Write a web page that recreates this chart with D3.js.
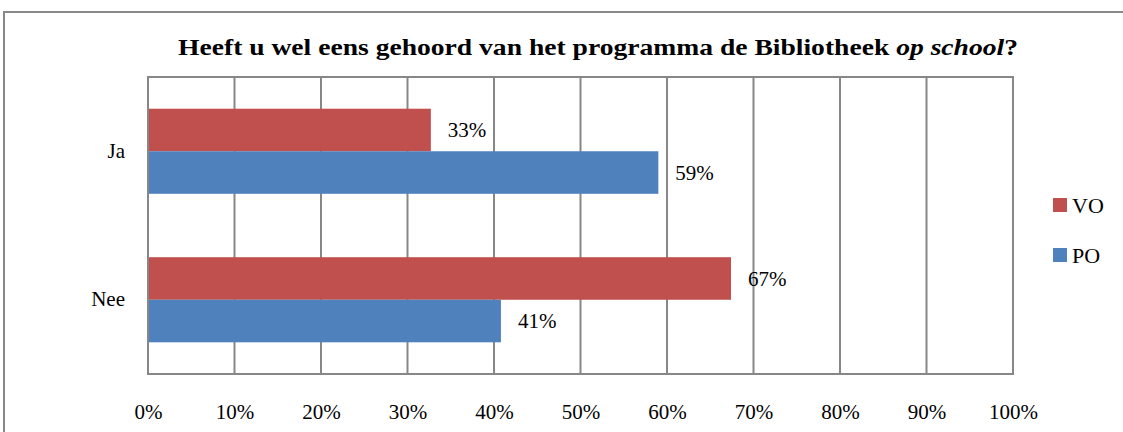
<!DOCTYPE html>
<html><head><meta charset="utf-8">
<script src="https://cdn.jsdelivr.net/npm/d3@7"></script>
<style>body{margin:0;background:#fff}svg{display:block}</style>
</head><body><svg id="c" width="1123" height="432"></svg>
<script>
const categories = ["Ja", "Nee"];
const seriesNames = ["VO", "PO"];
const VO = [0.327, 0.674];
const PO = [0.590, 0.408];
const valueLabels = {VO: ["33%", "67%"], PO: ["59%", "41%"]};
const ticks = [0,0.1,0.2,0.3,0.4,0.5,0.6,0.7,0.8,0.9,1.0];
const colors = {VO: "#C0504D", PO: "#4F81BD"};
const FONT = "Liberation Serif";

const svg = d3.select("#c");
svg.append("path").attr("d","M4,440 L4,12 L1130,12").attr("fill","none").attr("stroke","#888").attr("stroke-width",2);

const m = {l:148, r:1013, t:77, b:374};
const x = d3.scaleLinear().domain([0,1]).range([m.l, m.r]);
const y0 = d3.scaleBand().domain(categories).range([m.t, m.b]).paddingInner(0.427).paddingOuter(0.2135);
const y1 = d3.scaleBand().domain(seriesNames).range([0, y0.bandwidth()]);

const title = svg.append("text").attr("x", 598).attr("y", 55).attr("text-anchor","middle")
  .attr("textLength", 840).attr("lengthAdjust","spacingAndGlyphs")
  .style("font-family", FONT).style("font-size","23px").style("font-weight","bold").style("fill","#000");
title.append("tspan").text("Heeft u wel eens gehoord van het programma de Bibliotheek ");
title.append("tspan").style("font-style","italic").text("op school");
title.append("tspan").text("?");

const g = svg.append("g");
g.selectAll("line.v").data(ticks).join("line").attr("class","v")
  .attr("x1", d=>x(d)).attr("x2", d=>x(d)).attr("y1", m.t).attr("y2", m.b)
  .attr("stroke","#878787").attr("stroke-width",2);
g.append("line").attr("x1",m.l-1).attr("x2",m.r+1).attr("y1",m.t).attr("y2",m.t).attr("stroke","#878787").attr("stroke-width",2);
g.append("line").attr("x1",m.l-1).attr("x2",m.r+1).attr("y1",m.b).attr("y2",m.b).attr("stroke","#878787").attr("stroke-width",2);

const xAxis = d3.axisBottom(x).tickValues(ticks).tickFormat(d3.format(".0%")).tickSize(0).tickPadding(0);
const xa = svg.append("g").attr("transform",`translate(0,${m.b+30})`).call(xAxis);
xa.select(".domain").remove();
xa.selectAll("text").style("font-family", FONT).style("font-size","21px").style("fill","#000").attr("dy","0.71em");

const yAxis = d3.axisLeft(y0).tickSize(0).tickPadding(23);
const ya = svg.append("g").attr("transform",`translate(${m.l},0)`).call(yAxis);
ya.select(".domain").remove();
ya.selectAll("text").style("font-family", FONT).style("font-size","21px").style("fill","#000");

const data = [];
categories.forEach((c,i)=>{
  data.push({cat:c, s:"VO", v:VO[i], lab:valueLabels.VO[i]});
  data.push({cat:c, s:"PO", v:PO[i], lab:valueLabels.PO[i]});
});
const bars = svg.append("g");
bars.selectAll("rect").data(data).join("rect")
  .attr("x", x(0)+1).attr("y", d=>y0(d.cat)+y1(d.s))
  .attr("width", d=>x(d.v)-x(0)-1).attr("height", y1.bandwidth())
  .attr("fill", d=>colors[d.s]);
bars.selectAll("text").data(data).join("text")
  .attr("x", d=>x(d.v)+17).attr("y", d=>y0(d.cat)+y1(d.s)+y1.bandwidth()/2)
  .attr("dy","0.35em").style("font-family", FONT).style("font-size","21px").style("fill","#000").text(d=>d.lab);

const lg = svg.append("g");
seriesNames.forEach((s,i)=>{
  const cy = 205 + i*50;
  lg.append("rect").attr("x",1053).attr("y",cy-7).attr("width",14).attr("height",14).attr("fill",colors[s]);
  lg.append("text").attr("x",1072).attr("y",cy).attr("dy","0.35em").style("font-family", FONT).style("font-size","22px").style("fill","#000").text(s);
});
</script></body></html>
